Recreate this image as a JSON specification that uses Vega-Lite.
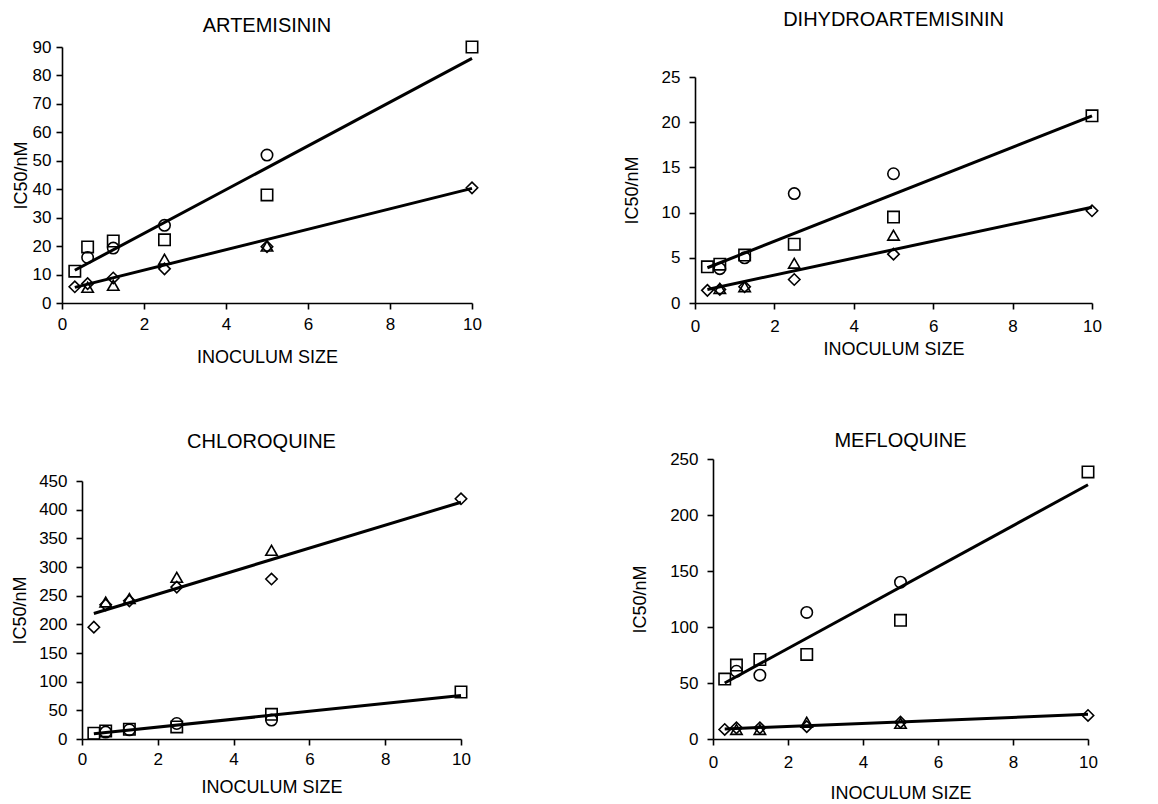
{
  "$schema": "https://vega.github.io/schema/vega-lite/v6.json",
  "background": "white",
  "padding": {"left": 11, "top": 10, "right": 5, "bottom": 5},
  "config": {
    "view": {"stroke": null},
    "font": "Liberation Sans",
    "axis": {
      "grid": false,
      "domainColor": "black",
      "domainWidth": 1.6,
      "tickColor": "black",
      "tickWidth": 1.6,
      "tickSize": 6,
      "tickCount": 20,
      "format": "d",
      "labelColor": "black",
      "labelFont": "Liberation Sans",
      "labelFontSize": 17,
      "labelOverlap": false,
      "labelFlush": false,
      "titleColor": "black",
      "titleFont": "Liberation Sans Narrow, Liberation Sans",
      "titleFontWeight": "normal",
      "titleFontSize": 18
    },
    "title": {"font": "Liberation Sans", "fontSize": 20, "fontWeight": "normal", "color": "black", "anchor": "middle", "frame": "group"}
  },
  "datasets": {
    "pts": [
      {"drug": "ARTEMISININ", "marker": "square", "x": 0.3125, "y": 11.2},
      {"drug": "ARTEMISININ", "marker": "square", "x": 0.625, "y": 19.7},
      {"drug": "ARTEMISININ", "marker": "square", "x": 1.25, "y": 21.8},
      {"drug": "ARTEMISININ", "marker": "square", "x": 2.5, "y": 22.2},
      {"drug": "ARTEMISININ", "marker": "square", "x": 5, "y": 38},
      {"drug": "ARTEMISININ", "marker": "square", "x": 10, "y": 90},
      {"drug": "ARTEMISININ", "marker": "circle", "x": 0.625, "y": 16},
      {"drug": "ARTEMISININ", "marker": "circle", "x": 1.25, "y": 19.3},
      {"drug": "ARTEMISININ", "marker": "circle", "x": 2.5, "y": 27.3},
      {"drug": "ARTEMISININ", "marker": "circle", "x": 5, "y": 52},
      {"drug": "ARTEMISININ", "marker": "triangle", "x": 0.625, "y": 5.5},
      {"drug": "ARTEMISININ", "marker": "triangle", "x": 1.25, "y": 6.2},
      {"drug": "ARTEMISININ", "marker": "triangle", "x": 2.5, "y": 15.4},
      {"drug": "ARTEMISININ", "marker": "triangle", "x": 5, "y": 20},
      {"drug": "ARTEMISININ", "marker": "diamond", "x": 0.3125, "y": 5.7},
      {"drug": "ARTEMISININ", "marker": "diamond", "x": 0.625, "y": 6.8},
      {"drug": "ARTEMISININ", "marker": "diamond", "x": 1.25, "y": 8.8},
      {"drug": "ARTEMISININ", "marker": "diamond", "x": 2.5, "y": 12},
      {"drug": "ARTEMISININ", "marker": "diamond", "x": 5, "y": 19.8},
      {"drug": "ARTEMISININ", "marker": "diamond", "x": 10, "y": 40.5},

      {"drug": "DIHYDROARTEMISININ", "marker": "square", "x": 0.3125, "y": 4},
      {"drug": "DIHYDROARTEMISININ", "marker": "square", "x": 0.625, "y": 4.3},
      {"drug": "DIHYDROARTEMISININ", "marker": "square", "x": 1.25, "y": 5.3},
      {"drug": "DIHYDROARTEMISININ", "marker": "square", "x": 2.5, "y": 6.5},
      {"drug": "DIHYDROARTEMISININ", "marker": "square", "x": 5, "y": 9.5},
      {"drug": "DIHYDROARTEMISININ", "marker": "square", "x": 10, "y": 20.7},
      {"drug": "DIHYDROARTEMISININ", "marker": "circle", "x": 0.625, "y": 3.8},
      {"drug": "DIHYDROARTEMISININ", "marker": "circle", "x": 1.25, "y": 5.0},
      {"drug": "DIHYDROARTEMISININ", "marker": "circle", "x": 2.5, "y": 12.1},
      {"drug": "DIHYDROARTEMISININ", "marker": "circle", "x": 5, "y": 14.3},
      {"drug": "DIHYDROARTEMISININ", "marker": "triangle", "x": 0.625, "y": 1.6},
      {"drug": "DIHYDROARTEMISININ", "marker": "triangle", "x": 1.25, "y": 1.8},
      {"drug": "DIHYDROARTEMISININ", "marker": "triangle", "x": 2.5, "y": 4.4},
      {"drug": "DIHYDROARTEMISININ", "marker": "triangle", "x": 5, "y": 7.5},
      {"drug": "DIHYDROARTEMISININ", "marker": "diamond", "x": 0.3125, "y": 1.4},
      {"drug": "DIHYDROARTEMISININ", "marker": "diamond", "x": 0.625, "y": 1.5},
      {"drug": "DIHYDROARTEMISININ", "marker": "diamond", "x": 1.25, "y": 1.8},
      {"drug": "DIHYDROARTEMISININ", "marker": "diamond", "x": 2.5, "y": 2.6},
      {"drug": "DIHYDROARTEMISININ", "marker": "diamond", "x": 5, "y": 5.4},
      {"drug": "DIHYDROARTEMISININ", "marker": "diamond", "x": 10, "y": 10.2},

      {"drug": "CHLOROQUINE", "marker": "square", "x": 0.3125, "y": 10},
      {"drug": "CHLOROQUINE", "marker": "square", "x": 0.625, "y": 14},
      {"drug": "CHLOROQUINE", "marker": "square", "x": 1.25, "y": 17},
      {"drug": "CHLOROQUINE", "marker": "square", "x": 2.5, "y": 21},
      {"drug": "CHLOROQUINE", "marker": "square", "x": 5, "y": 43},
      {"drug": "CHLOROQUINE", "marker": "square", "x": 10, "y": 82},
      {"drug": "CHLOROQUINE", "marker": "circle", "x": 0.625, "y": 12},
      {"drug": "CHLOROQUINE", "marker": "circle", "x": 1.25, "y": 16},
      {"drug": "CHLOROQUINE", "marker": "circle", "x": 2.5, "y": 27},
      {"drug": "CHLOROQUINE", "marker": "circle", "x": 5, "y": 33},
      {"drug": "CHLOROQUINE", "marker": "triangle", "x": 0.625, "y": 239},
      {"drug": "CHLOROQUINE", "marker": "triangle", "x": 1.25, "y": 245},
      {"drug": "CHLOROQUINE", "marker": "triangle", "x": 2.5, "y": 282},
      {"drug": "CHLOROQUINE", "marker": "triangle", "x": 5, "y": 329},
      {"drug": "CHLOROQUINE", "marker": "diamond", "x": 0.3125, "y": 195},
      {"drug": "CHLOROQUINE", "marker": "diamond", "x": 0.625, "y": 234},
      {"drug": "CHLOROQUINE", "marker": "diamond", "x": 1.25, "y": 241},
      {"drug": "CHLOROQUINE", "marker": "diamond", "x": 2.5, "y": 265},
      {"drug": "CHLOROQUINE", "marker": "diamond", "x": 5, "y": 279},
      {"drug": "CHLOROQUINE", "marker": "diamond", "x": 10, "y": 419},

      {"drug": "MEFLOQUINE", "marker": "square", "x": 0.3125, "y": 53.5},
      {"drug": "MEFLOQUINE", "marker": "square", "x": 0.625, "y": 66},
      {"drug": "MEFLOQUINE", "marker": "square", "x": 1.25, "y": 71},
      {"drug": "MEFLOQUINE", "marker": "square", "x": 2.5, "y": 75.5},
      {"drug": "MEFLOQUINE", "marker": "square", "x": 5, "y": 106},
      {"drug": "MEFLOQUINE", "marker": "square", "x": 10, "y": 238.5},
      {"drug": "MEFLOQUINE", "marker": "circle", "x": 0.625, "y": 60.5},
      {"drug": "MEFLOQUINE", "marker": "circle", "x": 1.25, "y": 57},
      {"drug": "MEFLOQUINE", "marker": "circle", "x": 2.5, "y": 113},
      {"drug": "MEFLOQUINE", "marker": "circle", "x": 5, "y": 140},
      {"drug": "MEFLOQUINE", "marker": "triangle", "x": 0.625, "y": 8.5},
      {"drug": "MEFLOQUINE", "marker": "triangle", "x": 1.25, "y": 8.5},
      {"drug": "MEFLOQUINE", "marker": "triangle", "x": 2.5, "y": 15},
      {"drug": "MEFLOQUINE", "marker": "triangle", "x": 5, "y": 14},
      {"drug": "MEFLOQUINE", "marker": "diamond", "x": 0.3125, "y": 8.5},
      {"drug": "MEFLOQUINE", "marker": "diamond", "x": 0.625, "y": 10},
      {"drug": "MEFLOQUINE", "marker": "diamond", "x": 1.25, "y": 10},
      {"drug": "MEFLOQUINE", "marker": "diamond", "x": 2.5, "y": 11},
      {"drug": "MEFLOQUINE", "marker": "diamond", "x": 5, "y": 15},
      {"drug": "MEFLOQUINE", "marker": "diamond", "x": 10, "y": 21}
    ],
    "fit": [
      {"drug": "ARTEMISININ", "fit": "upper", "x": 0.3125, "y": 11.5},
      {"drug": "ARTEMISININ", "fit": "upper", "x": 10, "y": 86},
      {"drug": "ARTEMISININ", "fit": "lower", "x": 0.3125, "y": 5.5},
      {"drug": "ARTEMISININ", "fit": "lower", "x": 10, "y": 40.3},
      {"drug": "DIHYDROARTEMISININ", "fit": "upper", "x": 0.3125, "y": 3.9},
      {"drug": "DIHYDROARTEMISININ", "fit": "upper", "x": 10, "y": 20.7},
      {"drug": "DIHYDROARTEMISININ", "fit": "lower", "x": 0.3125, "y": 1.5},
      {"drug": "DIHYDROARTEMISININ", "fit": "lower", "x": 10, "y": 10.6},
      {"drug": "CHLOROQUINE", "fit": "upper", "x": 0.3125, "y": 219},
      {"drug": "CHLOROQUINE", "fit": "upper", "x": 10, "y": 413},
      {"drug": "CHLOROQUINE", "fit": "lower", "x": 0.3125, "y": 9},
      {"drug": "CHLOROQUINE", "fit": "lower", "x": 10, "y": 76},
      {"drug": "MEFLOQUINE", "fit": "upper", "x": 0.3125, "y": 50},
      {"drug": "MEFLOQUINE", "fit": "upper", "x": 10, "y": 227},
      {"drug": "MEFLOQUINE", "fit": "lower", "x": 0.3125, "y": 9},
      {"drug": "MEFLOQUINE", "fit": "lower", "x": 10, "y": 22}
    ]
  },
  "vconcat": [
    {
      "hconcat": [
        {
          "width": 410, "height": 256,
          "title": {"text": "ARTEMISININ", "offset": 2},
          "layer": [
            {
              "data": {"name": "fit"},
              "transform": [{"filter": "datum.drug === 'ARTEMISININ'"}],
              "mark": {"type": "line", "color": "black", "strokeWidth": 3},
              "encoding": {
                "x": {"field": "x", "type": "quantitative", "scale": {"domain": [0, 10], "nice": false}, "axis": {"values": [0, 2, 4, 6, 8, 10], "format": "d", "title": "INOCULUM SIZE", "labelPadding": 7, "titlePadding": 16}},
                "y": {"field": "y", "type": "quantitative", "scale": {"domain": [0, 90], "nice": false}, "axis": {"values": [0, 10, 20, 30, 40, 50, 60, 70, 80, 90], "format": "d", "title": "IC50/nM", "labelPadding": 5, "titlePadding": 2}},
                "detail": {"field": "fit"}
              }
            },
            {
              "data": {"name": "pts"},
              "transform": [{"filter": "datum.drug === 'ARTEMISININ'"}],
              "mark": {"type": "point", "filled": false, "color": "black", "strokeWidth": 1.6, "size": 130, "opacity": 1},
              "encoding": {
                "x": {"field": "x", "type": "quantitative"},
                "y": {"field": "y", "type": "quantitative"},
                "shape": {"field": "marker", "type": "nominal", "scale": {"domain": ["square", "circle", "triangle", "diamond"], "range": ["square", "circle", "triangle-up", "diamond"]}, "legend": null}
              }
            }
          ]
        },
        {
          "width": 397, "height": 256,
          "title": {"text": "DIHYDROARTEMISININ", "offset": 17},
          "layer": [
            {
              "data": {"name": "fit"},
              "transform": [{"filter": "datum.drug === 'DIHYDROARTEMISININ'"}],
              "mark": {"type": "line", "color": "black", "strokeWidth": 3},
              "encoding": {
                "x": {"field": "x", "type": "quantitative", "scale": {"domain": [0, 10], "nice": false}, "axis": {"values": [0, 2, 4, 6, 8, 10], "format": "d", "title": "INOCULUM SIZE", "labelPadding": 9, "titlePadding": 6}},
                "y": {"field": "y", "type": "quantitative", "scale": {"domain": [0, 25], "nice": false, "range": [256, 30]}, "axis": {"values": [0, 5, 10, 15, 20, 25], "format": "d", "title": "IC50/nM", "labelPadding": 9, "titlePadding": 20}},
                "detail": {"field": "fit"}
              }
            },
            {
              "data": {"name": "pts"},
              "transform": [{"filter": "datum.drug === 'DIHYDROARTEMISININ'"}],
              "mark": {"type": "point", "filled": false, "color": "black", "strokeWidth": 1.6, "size": 130, "opacity": 1},
              "encoding": {
                "x": {"field": "x", "type": "quantitative"},
                "y": {"field": "y", "type": "quantitative"},
                "shape": {"field": "marker", "type": "nominal", "scale": {"domain": ["square", "circle", "triangle", "diamond"], "range": ["square", "circle", "triangle-up", "diamond"]}, "legend": null}
              }
            }
          ]
        }
      ],
      "spacing": 141
    },
    {
      "hconcat": [
        {
          "width": 399, "height": 280,
          "title": {"text": "CHLOROQUINE", "offset": 7},
          "layer": [
            {
              "data": {"name": "fit"},
              "transform": [{"filter": "datum.drug === 'CHLOROQUINE'"}],
              "mark": {"type": "line", "color": "black", "strokeWidth": 3},
              "encoding": {
                "x": {"field": "x", "type": "quantitative", "scale": {"domain": [0, 10], "nice": false, "range": [20, 399]}, "axis": {"values": [0, 2, 4, 6, 8, 10], "format": "d", "title": "INOCULUM SIZE", "labelPadding": 6, "titlePadding": 11}},
                "y": {"field": "y", "type": "quantitative", "scale": {"domain": [0, 450], "nice": false, "range": [280, 22]}, "axis": {"values": [0, 50, 100, 150, 200, 250, 300, 350, 400, 450], "format": "d", "title": "IC50/nM", "labelPadding": 9, "titlePadding": 9, "offset": -20}},
                "detail": {"field": "fit"}
              }
            },
            {
              "data": {"name": "pts"},
              "transform": [{"filter": "datum.drug === 'CHLOROQUINE'"}],
              "mark": {"type": "point", "filled": false, "color": "black", "strokeWidth": 1.6, "size": 130, "opacity": 1},
              "encoding": {
                "x": {"field": "x", "type": "quantitative"},
                "y": {"field": "y", "type": "quantitative"},
                "shape": {"field": "marker", "type": "nominal", "scale": {"domain": ["square", "circle", "triangle", "diamond"], "range": ["square", "circle", "triangle-up", "diamond"]}, "legend": null}
              }
            }
          ]
        },
        {
          "width": 375, "height": 280,
          "title": {"text": "MEFLOQUINE", "offset": -1},
          "layer": [
            {
              "data": {"name": "fit"},
              "transform": [{"filter": "datum.drug === 'MEFLOQUINE'"}],
              "mark": {"type": "line", "color": "black", "strokeWidth": 3},
              "encoding": {
                "x": {"field": "x", "type": "quantitative", "scale": {"domain": [0, 10], "nice": false}, "axis": {"values": [0, 2, 4, 6, 8, 10], "format": "d", "title": "INOCULUM SIZE", "labelPadding": 9, "titlePadding": 14}},
                "y": {"field": "y", "type": "quantitative", "scale": {"domain": [0, 250], "nice": false}, "axis": {"values": [0, 50, 100, 150, 200, 250], "format": "d", "title": "IC50/nM", "labelPadding": 9, "titlePadding": 20}},
                "detail": {"field": "fit"}
              }
            },
            {
              "data": {"name": "pts"},
              "transform": [{"filter": "datum.drug === 'MEFLOQUINE'"}],
              "mark": {"type": "point", "filled": false, "color": "black", "strokeWidth": 1.6, "size": 130, "opacity": 1},
              "encoding": {
                "x": {"field": "x", "type": "quantitative"},
                "y": {"field": "y", "type": "quantitative"},
                "shape": {"field": "marker", "type": "nominal", "scale": {"domain": ["square", "circle", "triangle", "diamond"], "range": ["square", "circle", "triangle-up", "diamond"]}, "legend": null}
              }
            }
          ]
        }
      ],
      "spacing": 160
    }
  ],
  "spacing": 65
}
